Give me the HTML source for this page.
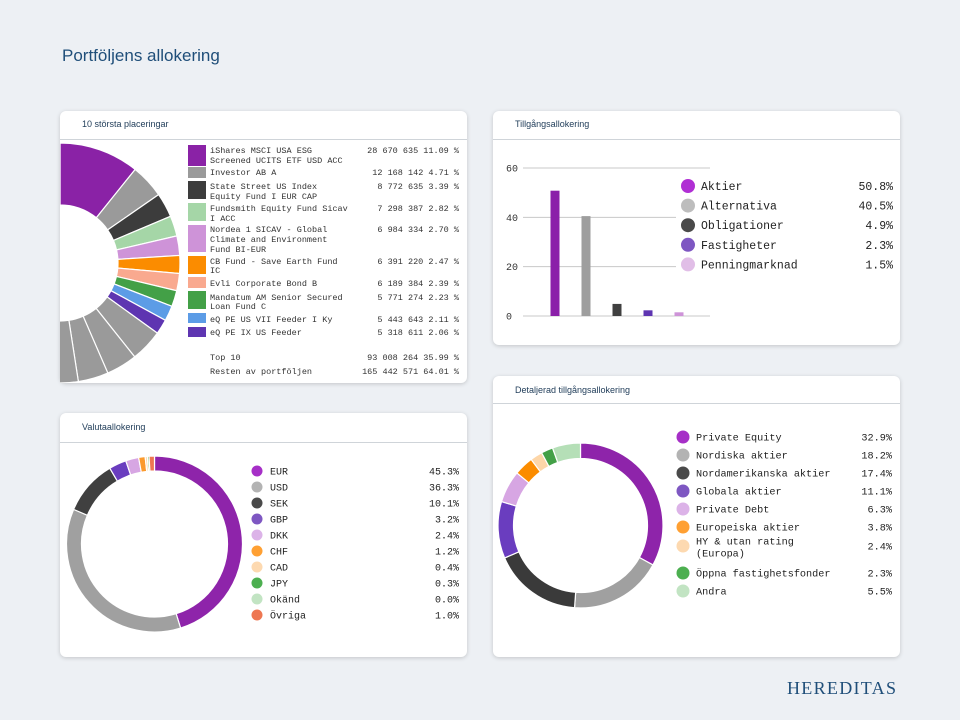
<!DOCTYPE html>
<html><head><meta charset="utf-8">
<style>
body{margin:0;width:960px;height:720px;background:#edf0f4;position:relative;overflow:hidden;font-family:"Liberation Sans",sans-serif}
.card{position:absolute;background:#fff;border-radius:6px;box-shadow:0 1px 4px rgba(0,0,0,0.18)}
.ct{position:absolute;left:22px;font-size:9px;color:#24405c}
.sep{position:absolute;left:0;right:0;height:1px;background:#cfd4d9}
#main-title{position:absolute;left:62px;top:46px;font-size:17px;color:#1f4e79}
#brand{position:absolute;left:787px;top:678px;font-family:"Liberation Serif",serif;font-size:18px;letter-spacing:1.3px;color:#1f4e79}
svg{position:absolute;left:0;top:0}
text{font-family:"Liberation Mono",monospace}
</style></head><body>
<div id="main-title">Portföljens allokering</div>
<div class="card" style="left:60px;top:111px;width:407px;height:272px"><div class="ct" style="top:8px">10 största placeringar</div><div class="sep" style="top:28px"></div></div>
<div class="card" style="left:493px;top:111px;width:407px;height:234px"><div class="ct" style="top:8px">Tillgångsallokering</div><div class="sep" style="top:28px"></div></div>
<div class="card" style="left:60px;top:413px;width:407px;height:244px"><div class="ct" style="top:9px">Valutaallokering</div><div class="sep" style="top:29px"></div></div>
<div class="card" style="left:493px;top:376px;width:407px;height:281px"><div class="ct" style="top:9px">Detaljerad tillgångsallokering</div><div class="sep" style="top:27px"></div></div>
<div id="brand">HEREDITAS</div>
<svg id="chart" width="960" height="720" xmlns="http://www.w3.org/2000/svg">
<defs><clipPath id="c1"><rect x="60" y="140" width="407" height="243"/></clipPath></defs>
<g id="g1" clip-path="url(#c1)"></g><g id="g1l"></g><g id="g2"></g><g id="g3"></g><g id="g4"></g>
</svg>
<script>
// Card 1: top holdings
const holdNames=[["iShares MSCI USA ESG","Screened UCITS ETF USD ACC"],["Investor AB A"],["State Street US Index","Equity Fund I EUR CAP"],["Fundsmith Equity Fund Sicav","I ACC"],["Nordea 1 SICAV - Global","Climate and Environment","Fund BI-EUR"],["CB Fund - Save Earth Fund","IC"],["Evli Corporate Bond B"],["Mandatum AM Senior Secured","Loan Fund C"],["eQ PE US VII Feeder I Ky"],["eQ PE IX US Feeder"]];
const holdAmounts=["28 670 635","12 168 142","8 772 635","7 298 387","6 984 334","6 391 220","6 189 384","5 771 274","5 443 643","5 318 611"];
const holdPct=[11.09,4.71,3.39,2.82,2.70,2.47,2.39,2.23,2.11,2.06];
const holdColors=["#8a22a6","#9a9a9a","#3c3c3c","#a5d6a7","#ce93d8","#fb8c00","#f9a98f","#43a047","#5c9ce6","#5e35b1"];
const restPct=[4.5,4.3,4.2,4.0,3.9,3.8,3.7,3.6,3.5,3.4,3.3,3.2,3.1,3.0,2.9,2.8,2.7,2.5,2.4,2.21];
const summaryLabels=["Top 10","Resten av portföljen"];
const summaryValues=["93 008 264 35.99 %","165 442 571 64.01 %"];
// Card 2: asset classes
const assetCats=["Aktier","Alternativa","Obligationer","Fastigheter","Penningmarknad"];
const assetVals=[50.8,40.5,4.9,2.3,1.5];
const assetTicks=[0,20,40,60];
// Card 3: currencies
const curCats=["EUR","USD","SEK","GBP","DKK","CHF","CAD","JPY","Okänd","Övriga"];
const curVals=[45.3,36.3,10.1,3.2,2.4,1.2,0.4,0.3,0.0,1.0];
// Card 4: detailed
const detCats=[["Private Equity"],["Nordiska aktier"],["Nordamerikanska aktier"],["Globala aktier"],["Private Debt"],["Europeiska aktier"],["HY & utan rating","(Europa)"],["Öppna fastighetsfonder"],["Andra"]];
const detVals=[32.9,18.2,17.4,11.1,6.3,3.8,2.4,2.3,5.5];

const NS="http://www.w3.org/2000/svg";
function mk(tag,attrs,parent){const e=document.createElementNS(NS,tag);for(const k in attrs)e.setAttribute(k,attrs[k]);parent.appendChild(e);return e;}
function arc(cx,cy,r0,r1,a0,a1){const p=(r,a)=>[cx+r*Math.sin(a),cy-r*Math.cos(a)];const L=(a1-a0)>Math.PI?1:0;const [x0,y0]=p(r1,a0),[x1,y1]=p(r1,a1),[x2,y2]=p(r0,a1),[x3,y3]=p(r0,a0);return `M${x0},${y0}A${r1},${r1} 0 ${L} 1 ${x1},${y1}L${x2},${y2}A${r0},${r0} 0 ${L} 0 ${x3},${y3}Z`;}
function donut(g,cx,cy,r0,r1,vals,cols,name){const tot=vals.reduce((a,b)=>a+b,0);let a=0;vals.forEach((v,i)=>{if(v<=0)return;const a0=a/tot*2*Math.PI;a+=v;const a1=a/tot*2*Math.PI;const p=mk('path',{d:arc(cx,cy,r0,r1,a0,a1),fill:cols[i],stroke:'#fff','stroke-width':1.2},g);

});}

// Card 1 donut
const g1=document.getElementById('g1');
const allPct=holdPct.concat(restPct);
const allCols=holdColors.concat(restPct.map(()=>'#9a9a9a'));
donut(g1,60,263,58,120,allPct,allCols,'holding');
const g1l=document.getElementById('g1l');
const rowsY=[[150,160],[172],[186,196],[208,218],[229,239,249],[261,270],[283],[297,306],[319],[332]];
const swY=[[145,166],[167,178],[181,199],[203,221],[225,252],[256,274],[277,288],[291,309],[313,323],[327,337]];
holdNames.forEach((lines,i)=>{
 const s=mk('rect',{x:188,y:swY[i][0],width:18,height:swY[i][1]-swY[i][0],fill:holdColors[i]},g1l);
 
 
 lines.forEach((t,j)=>{const e=mk('text',{x:210,y:rowsY[i][j]+3,'font-size':'8.5px',fill:'#333'},g1l);e.textContent=t;
 
 });
 const v=mk('text',{x:459,y:rowsY[i][0]+3,'font-size':'8.5px',fill:'#333','text-anchor':'end'},g1l);v.textContent=holdAmounts[i]+' '+holdPct[i].toFixed(2)+' %';
 
 
});
summaryLabels.forEach((t,i)=>{const y=357+i*14+3;const a=mk('text',{x:210,y:y,'font-size':'8.5px',fill:'#333'},g1l);a.textContent=t;


const b=mk('text',{x:459,y:y,'font-size':'8.5px',fill:'#333','text-anchor':'end'},g1l);b.textContent=summaryValues[i];

});

// Card 2 bars
const g2=document.getElementById('g2');
const yS=v=>316-v*(148/60);
const xS=i=>555+i*31;
const barCols=["#8b1fa9","#9e9e9e","#404040","#5e35b1","#ce93d8"];
const dotCols=["#b02fd4","#bdbdbd","#4a4a4a","#7e57c2","#e1bee7"];
assetTicks.forEach(t=>{mk('line',{x1:523,x2:710,y1:yS(t),y2:yS(t),stroke:'#c8c8c8','stroke-width':1},g2);const e=mk('text',{x:506,y:yS(t)+3.5,'font-size':'10px',fill:'#333'},g2);e.textContent=t;

});
assetVals.forEach((v,i)=>{const r=mk('rect',{x:xS(i)-4.5,y:yS(v),width:9,height:316-yS(v),fill:barCols[i]},g2);

});
mk('rect',{x:676,y:175,width:222,height:100,fill:'#fff'},g2);
assetCats.forEach((c,i)=>{const y=186+i*19.6;mk('circle',{cx:688,cy:y,r:7,fill:dotCols[i]},g2);
const a=mk('text',{x:701,y:y+4,'font-size':'11.5px',fill:'#222'},g2);a.textContent=c;


const b=mk('text',{x:893,y:y+4,'font-size':'11.5px',fill:'#222','text-anchor':'end'},g2);b.textContent=assetVals[i].toFixed(1)+'%';

});

// Card 3 currency donut
const g3=document.getElementById('g3');
const curCols=["#8e24aa","#a0a0a0","#404040","#6a3dbf","#d7a6e3","#fb9a2c","#fdd6a8","#4caf50","#b9dfbb","#ee7752"];
const curDot=["#a62fc7","#b3b3b3","#4a4a4a","#7e57c2","#dcb3e8","#ffa033","#fdd9b0","#4caf50","#c2e4c3","#ee7752"];
donut(g3,154.5,544,73,88,curVals,curCols,'currency');
curCats.forEach((c,i)=>{const y=471+i*16;mk('circle',{cx:257,cy:y,r:5.5,fill:curDot[i]},g3);
const a=mk('text',{x:270,y:y+3.5,'font-size':'10px',fill:'#222'},g3);a.textContent=c;


const b=mk('text',{x:459,y:y+3.5,'font-size':'10px',fill:'#222','text-anchor':'end'},g3);b.textContent=curVals[i].toFixed(1)+'%';

});

// Card 4 detailed donut
const g4=document.getElementById('g4');
const detCols=["#8e24aa","#a0a0a0","#3a3a3a","#6a3dbf","#d7a6e3","#fb8c00","#fdd6a8","#43a047","#b5dfb7"];
const detDot=["#a62fc7","#b3b3b3","#4a4a4a","#7e57c2","#dcb3e8","#ffa033","#fdd9b0","#4caf50","#c2e4c3"];
donut(g4,580.5,525.5,67,82.5,detVals,detCols,'detail');
const detY=[437,455,473,491,509,527,546,573,591];
detCats.forEach((lines,i)=>{const y=detY[i];mk('circle',{cx:683,cy:y,r:6.5,fill:detDot[i]},g4);
lines.forEach((t,j)=>{const ly=lines.length>1?y-5+j*12:y;const a=mk('text',{x:696,y:ly+3.5,'font-size':'10.2px',fill:'#222'},g4);a.textContent=t;

});
const b=mk('text',{x:892,y:y+3.5,'font-size':'10.2px',fill:'#222','text-anchor':'end'},g4);b.textContent=detVals[i].toFixed(1)+'%';

});
</script>
</body></html>
